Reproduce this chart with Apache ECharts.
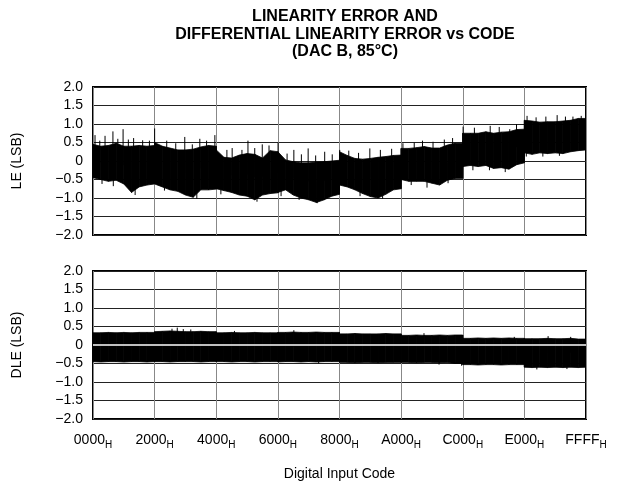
<!DOCTYPE html>
<html><head><meta charset="utf-8">
<script src="https://cdn.jsdelivr.net/npm/echarts@6/dist/echarts.min.js"></script>
<style>html,body{margin:0;padding:0;background:#fff}#c{width:623px;height:491px}</style>
</head><body><div id="c"></div>
<script>
// Input codes sampled every 0400h, plus the last code before each 2000h boundary
const codes = [0,1024,2048,3072,4096,5120,6144,7168,8191,
  8192,9216,10240,11264,12288,13312,14336,15360,16383,
  16384,17408,18432,19456,20480,21504,22528,23552,24575,
  24576,25600,26624,27648,28672,29696,30720,31744,32767,
  32768,33792,34816,35840,36864,37888,38912,39936,40959,
  40960,41984,43008,44032,45056,46080,47104,48128,49151,
  49152,50176,51200,52224,53248,54272,55296,56320,57343,
  57344,58368,59392,60416,61440,62464,63488,64512,65535];

// LE envelope (LSB)
const leHigh = [0.45,0.40,0.42,0.48,0.40,0.40,0.42,0.40,0.42,
  0.50,0.40,0.35,0.30,0.30,0.32,0.38,0.42,0.40,
  0.30,0.10,0.08,0.16,0.20,0.18,0.08,0.28,0.25,
  0.25,0.03,-0.02,-0.05,-0.05,-0.03,-0.02,0.00,0.02,
  0.25,0.15,0.07,0.05,0.07,0.10,0.12,0.15,0.16,
  0.34,0.34,0.36,0.39,0.35,0.35,0.43,0.48,0.48,
  0.75,0.75,0.75,0.79,0.75,0.78,0.79,0.85,0.86,
  1.10,1.08,1.05,1.06,1.06,1.08,1.10,1.15,1.15];
const leLow = [-0.45,-0.50,-0.55,-0.52,-0.62,-0.85,-0.70,-0.65,-0.62,
  -0.62,-0.70,-0.78,-0.82,-0.92,-0.98,-0.78,-0.78,-0.76,
  -0.75,-0.80,-0.85,-0.92,-0.95,-1.05,-0.92,-0.88,-0.86,
  -0.85,-0.78,-0.92,-1.00,-1.05,-1.12,-1.05,-0.95,-0.90,
  -0.65,-0.70,-0.78,-0.88,-0.96,-1.00,-0.90,-0.78,-0.75,
  -0.50,-0.55,-0.55,-0.55,-0.60,-0.65,-0.52,-0.47,-0.47,
  -0.15,-0.12,-0.15,-0.12,-0.20,-0.18,-0.22,-0.10,-0.05,
  0.22,0.18,0.22,0.20,0.22,0.20,0.25,0.28,0.30];
// LE spikes: [code, peak]
const leSpikes = [[270,0.70],[900,0.55],[1600,0.68],[2650,0.80],[3300,0.60],[4000,0.86],[4700,0.58],
  [5400,0.62],[6600,0.56],[7500,0.55],[8192,0.88],[9800,0.55],[11000,0.48],
  [12200,0.65],[13200,0.45],[14200,0.60],[15100,0.55],[16200,0.70],[17800,0.30],[18500,0.35],
  [19800,0.30],[20600,0.55],[21500,0.35],[22500,0.45],[23400,0.42],[24600,0.50],[25800,0.20],
  [26700,0.30],[27700,0.18],[28600,0.34],[29600,0.15],[30800,0.25],[31800,0.18],[32800,0.30],
  [34000,0.28],[35300,0.22],[36800,0.34],[38200,0.30],[39700,0.33],[41200,0.48],[42700,0.50],
  [43800,0.55],[45200,0.52],[46700,0.58],[47800,0.62],[49200,0.93],[50700,0.90],[52800,0.95],
  [54000,0.92],[55400,0.86],[56300,1.00],[57700,1.22],[58900,1.18],[60200,1.20],[61700,1.24],
  [62800,1.20],[63800,1.20],[64900,1.22],
  [1200,-0.62],[2700,-0.68],[5600,-0.92],[9500,-0.80],[13800,-1.02],[17000,-0.90],[21800,-1.10],
  [25000,-0.95],[27400,-1.05],[29800,-1.14],[35500,-0.95],[38500,-1.02],[42300,-0.65],[44400,-0.72],
  [47200,-0.60],[50500,-0.25],[52700,-0.25],[54800,-0.30],[57600,0.12],[59800,0.12],[62000,0.14]];

// DLE envelope (LSB)
const dleHigh = [0.33,0.33,0.34,0.33,0.34,0.33,0.34,0.34,0.34,
  0.36,0.37,0.38,0.37,0.36,0.36,0.37,0.36,0.36,
  0.33,0.33,0.34,0.33,0.33,0.34,0.33,0.33,0.33,
  0.34,0.34,0.35,0.34,0.34,0.35,0.34,0.34,0.34,
  0.30,0.30,0.31,0.30,0.30,0.30,0.31,0.30,0.30,
  0.26,0.26,0.27,0.26,0.26,0.27,0.26,0.27,0.27,
  0.18,0.18,0.19,0.18,0.19,0.18,0.19,0.18,0.18,
  0.17,0.17,0.17,0.18,0.17,0.17,0.18,0.16,0.16];
const dleLow = [-0.45,-0.46,-0.45,-0.45,-0.46,-0.45,-0.45,-0.46,-0.45,
  -0.45,-0.45,-0.46,-0.45,-0.45,-0.45,-0.46,-0.45,-0.45,
  -0.45,-0.45,-0.46,-0.45,-0.45,-0.46,-0.45,-0.45,-0.45,
  -0.46,-0.45,-0.45,-0.46,-0.45,-0.46,-0.45,-0.45,-0.45,
  -0.47,-0.47,-0.48,-0.47,-0.47,-0.48,-0.47,-0.47,-0.47,
  -0.47,-0.47,-0.48,-0.47,-0.47,-0.48,-0.47,-0.50,-0.50,
  -0.53,-0.53,-0.54,-0.53,-0.53,-0.54,-0.53,-0.53,-0.53,
  -0.60,-0.61,-0.60,-0.61,-0.60,-0.61,-0.60,-0.61,-0.60];
const dleSpikes = [[10500,0.44],[11200,0.47],[12000,0.43],[13000,0.42],[18800,0.38],[26700,0.40],
  [44000,0.32],[56000,0.22],[60500,0.24],[63500,0.22],[30000,-0.50],[46000,-0.53],[49000,-0.56],
  [59000,-0.66],[63000,-0.65]];

const xTickLabels = ['0000','2000','4000','6000','8000','A000','C000','E000','FFFF'];
const yTickLabels = ['\u22122.0','\u22121.5','\u22121.0','\u22120.5','0','0.5','1.0','1.5','2.0'];

const FONT = "'Liberation Sans', Arial, sans-serif";
const chart = echarts.init(document.getElementById('c'), null, {renderer:'canvas'});

function yAxisCfg(idx, name){
  return {gridIndex: idx, type:'value', min:-2, max:2, interval:0.5,
    name: name, nameLocation:'middle', nameGap:69,
    nameTextStyle:{fontFamily:FONT, fontSize:14, color:'#000'},
    axisLine:{show:false}, axisTick:{show:false},
    axisLabel:{fontFamily:FONT, fontSize:14, color:'#000', margin:10,
      formatter: v => yTickLabels[Math.round((v + 2) / 0.5)]},
    splitLine:{show:true, lineStyle:{color:'#222', width:1}}};
}
function xAxisCfg(idx, showLabels){
  const c = {gridIndex: idx, type:'value', min:0, max:65535, interval:8192,
    axisLine:{show:false}, axisTick:{show:false},
    splitLine:{show:true, lineStyle:{color:'#888', width:1}},
    axisLabel:{show: showLabels, fontFamily:FONT, fontSize:14, color:'#000', margin:12,
      formatter: v => '{a|' + xTickLabels[Math.round(v / 8192)] + '}{s|H}',
      rich:{a:{fontFamily:FONT, fontSize:14, color:'#000'},
            s:{fontFamily:FONT, fontSize:10, color:'#000', padding:[9,0,0,0]}}}};
  if (showLabels) {
    c.name = 'Digital Input Code'; c.nameLocation = 'middle'; c.nameGap = 48;
    c.nameTextStyle = {fontFamily:FONT, fontSize:14, color:'#000'};
  }
  return c;
}
// filled band between low and high envelopes, drawn as trapezoids through the axes' scales
function band(gi, hi, lo){
  const data = codes.slice(0, -1).map((c, i) => [c, lo[i], hi[i], codes[i+1], lo[i+1], hi[i+1]]);
  return {type:'custom', xAxisIndex:gi, yAxisIndex:gi, silent:true, clip:true,
    data: data, encode:{x:[0,3], y:[1,2,4,5]},
    renderItem:(params, api) => {
      const a = api.coord([api.value(0), api.value(2)]);
      const b = api.coord([api.value(3), api.value(5)]);
      const c = api.coord([api.value(3), api.value(4)]);
      const d = api.coord([api.value(0), api.value(1)]);
      return {type:'polygon', shape:{points:[a,b,c,d]},
        style:{fill:'#000', stroke:'#000', lineWidth:0.8}};
    }};
}
// spikes start from the middle of the band at the nearest sampled code
function bandMid(code, hi, lo){
  let j = 0;
  codes.forEach((c, i) => { if (Math.abs(c - code) < Math.abs(codes[j] - code)) j = i; });
  return (hi[j] + lo[j]) / 2;
}
function spikes(gi, arr, hi, lo){
  return {type:'custom', xAxisIndex:gi, yAxisIndex:gi, silent:true,
    data: arr.map(d => [d[0], bandMid(d[0], hi, lo), d[1]]), encode:{x:0, y:[1,2]},
    renderItem:(params, api) => {
      const p1 = api.coord([api.value(0), api.value(1)]);
      const p2 = api.coord([api.value(0), api.value(2)]);
      return {type:'line', shape:{x1:p1[0], y1:p1[1], x2:p2[0], y2:p2[1]},
        style:{stroke:'#000', lineWidth:1}};
    }};
}

const option = {
  animation:false,
  backgroundColor:'#fff',
  title:{text:'LINEARITY ERROR AND\nDIFFERENTIAL LINEARITY ERROR vs CODE\n(DAC B, 85°C)',
    left:340, top:3, textAlign:'center',
    textStyle:{fontFamily:FONT, fontSize:16, fontWeight:'bold', color:'#000', lineHeight:17.5}},
  grid:[
    {left:93, top:87, width:493, height:148, show:true, borderColor:'#000', borderWidth:2, backgroundColor:'transparent'},
    {left:93, top:271, width:493, height:148, show:true, borderColor:'#000', borderWidth:2, backgroundColor:'transparent'}
  ],
  xAxis:[xAxisCfg(0,false), xAxisCfg(1,true)],
  yAxis:[yAxisCfg(0,'LE (LSB)'), yAxisCfg(1,'DLE (LSB)')],
  series:[
    band(0, leHigh, leLow),
    spikes(0, leSpikes, leHigh, leLow),
    band(1, dleHigh, dleLow),
    spikes(1, dleSpikes, dleHigh, dleLow),
    {type:'line', xAxisIndex:1, yAxisIndex:1, silent:true, symbol:'none', data:[],
      markLine:{silent:true, symbol:'none', label:{show:false},
        lineStyle:{color:'#fff', width:1.5, type:'solid'}, data:[{yAxis:0}]}}
  ]
};
chart.setOption(option);
</script>
</body></html>
